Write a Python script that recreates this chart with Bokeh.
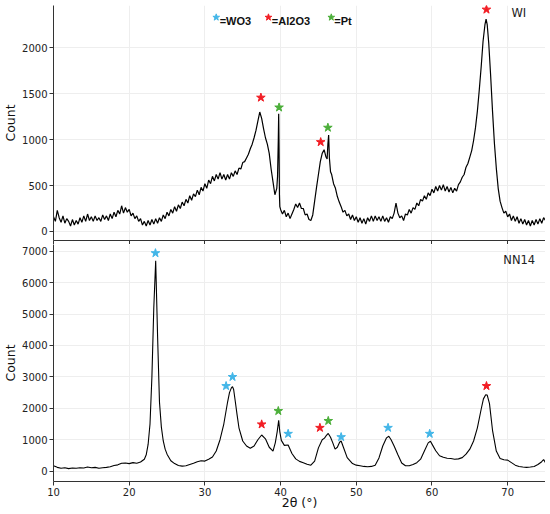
from bokeh.plotting import figure
from bokeh.models import Range1d, FixedTicker
from bokeh.layouts import column
from bokeh.core.properties import value
from bokeh.embed import file_html
from bokeh.resources import INLINE

# ---------------- data: sample WI (top) ----------------
wi_x = [10.0, 10.25, 10.5, 10.75, 11.0, 11.25, 11.5, 11.75, 12.0, 12.25, 12.5, 12.75,
        13.0, 13.25, 13.5, 13.75, 14.0, 14.25, 14.5, 14.75, 15.0, 15.25, 15.5, 15.75,
        16.0, 16.25, 16.5, 16.75, 17.0, 17.25, 17.5, 17.75, 18.0, 18.25, 18.5, 18.75,
        19.0, 19.25, 19.5, 19.75, 20.0, 20.25, 20.5, 20.75, 21.0, 21.25, 21.5, 21.75,
        22.0, 22.25, 22.5, 22.75, 23.0, 23.25, 23.5, 23.75, 24.0, 24.25, 24.5, 24.75,
        25.0, 25.25, 25.5, 25.75, 26.0, 26.25, 26.5, 26.75, 27.0, 27.25, 27.5, 27.75,
        28.0, 28.25, 28.5, 28.75, 29.0, 29.25, 29.5, 29.75, 30.0, 30.25, 30.5, 30.75,
        31.0, 31.25, 31.5, 31.75, 32.0, 32.25, 32.5, 32.75, 33.0, 33.25, 33.5, 33.75,
        34.0, 34.25, 34.5, 34.75, 35.0, 35.25, 35.5, 35.75, 36.0, 36.25, 36.5, 36.75,
        37.0, 37.25, 37.5, 37.75, 38.0, 38.25, 38.5, 38.75, 39.0, 39.25, 39.5, 39.6,
        39.7, 39.75, 39.8, 39.85, 39.9, 40.0, 40.25, 40.5, 40.75, 41.0, 41.25, 41.5,
        41.75, 42.0, 42.25, 42.5, 42.75, 43.0, 43.25, 43.5, 43.75, 44.0, 44.25, 44.5,
        44.75, 45.0, 45.25, 45.5, 45.75, 46.0, 46.15, 46.25, 46.35, 46.45, 46.6, 46.75,
        47.0, 47.25, 47.5, 47.75, 48.0, 48.25, 48.5, 48.75, 49.0, 49.25, 49.5, 49.75,
        50.0, 50.25, 50.5, 50.75, 51.0, 51.25, 51.5, 51.75, 52.0, 52.25, 52.5, 52.75,
        53.0, 53.25, 53.5, 53.75, 54.0, 54.25, 54.5, 54.75, 55.0, 55.25, 55.5, 55.75,
        56.0, 56.25, 56.5, 56.75, 57.0, 57.25, 57.5, 57.75, 58.0, 58.25, 58.5, 58.75,
        59.0, 59.25, 59.5, 59.75, 60.0, 60.25, 60.5, 60.75, 61.0, 61.25, 61.5, 61.75,
        62.0, 62.25, 62.5, 62.75, 63.0, 63.25, 63.5, 63.75, 64.0, 64.25, 64.5, 64.75,
        65.0, 65.25, 65.5, 65.75, 66.0, 66.25, 66.5, 66.75, 67.0, 67.15, 67.3, 67.5,
        67.75, 68.0, 68.25, 68.5, 68.75, 69.0, 69.25, 69.5, 69.75, 70.0, 70.25, 70.5,
        70.75, 71.0, 71.25, 71.5, 71.75, 72.0, 72.25, 72.5, 72.75, 73.0, 73.25, 73.5,
        73.75, 74.0, 74.25, 74.5, 74.75, 75.0]
wi_y = [160, 110, 230, 150, 100, 170, 90, 140, 110, 60, 130, 70,
        120, 80, 150, 100, 170, 110, 190, 120, 160, 110, 170, 120,
        150, 110, 180, 130, 170, 120, 190, 140, 210, 160, 230, 190,
        280, 200, 260, 210, 240, 170, 200, 140, 170, 110, 140, 70,
        110, 60, 120, 70, 130, 80, 140, 90, 150, 110, 180, 140,
        210, 170, 240, 200, 270, 220, 290, 250, 320, 280, 350, 310,
        390, 340, 410, 380, 450, 400, 480, 440, 520, 470, 560, 520,
        600, 550, 620, 570, 640, 570, 620, 560, 620, 570, 640, 600,
        660, 620, 690, 680, 750, 760, 800, 840, 900, 950, 1020, 1100,
        1200, 1300, 1230, 1120, 1020, 950, 850, 680, 540, 400, 470, 600,
        1000, 1280, 900, 400, 270, 240, 190, 230, 160, 200, 140, 190,
        240, 300, 260, 310, 250, 250, 180, 190, 130, 120, 180, 330,
        480, 620, 760, 850, 890, 810, 790, 950, 1050, 800, 650, 620,
        520, 470, 380, 320, 270, 210, 230, 170, 190, 130, 180, 120,
        160, 100, 150, 90, 140, 80, 150, 110, 170, 110, 170, 120,
        160, 110, 170, 110, 150, 100, 160, 140, 200, 310, 200, 150,
        170, 120, 190, 180, 240, 200, 260, 240, 310, 280, 350, 330,
        390, 350, 420, 390, 460, 420, 490, 440, 500, 450, 510, 440,
        490, 430, 480, 420, 470, 440, 510, 540, 590, 620, 700, 740,
        810, 880, 990, 1130, 1310, 1540, 1790, 2070, 2250, 2310, 2250, 2050,
        1700, 1310, 960, 690, 470, 330, 260, 200, 220, 160, 190, 120,
        170, 110, 160, 90, 140, 80, 130, 70, 120, 60, 120, 70,
        130, 80, 140, 90, 150, 120]

# ---------------- data: sample NN14 (bottom) ----------------
nn_x = [10.0, 10.5, 11.0, 11.5, 12.0, 12.5, 13.0, 13.5, 14.0, 14.5, 15.0, 15.5,
        16.0, 16.5, 17.0, 17.5, 18.0, 18.5, 19.0, 19.5, 20.0, 20.5, 21.0, 21.5,
        22.0, 22.25, 22.5, 22.75, 23.0, 23.25, 23.5, 23.75, 24.0, 24.25, 24.5, 24.75,
        25.0, 25.5, 26.0, 26.5, 27.0, 27.5, 28.0, 28.5, 29.0, 29.5, 30.0, 30.5,
        31.0, 31.5, 32.0, 32.5, 33.0, 33.25, 33.5, 33.65, 33.8, 34.0, 34.25, 34.5,
        35.0, 35.5, 36.0, 36.5, 37.0, 37.5, 38.0, 38.5, 39.0, 39.3, 39.55, 39.75,
        39.9, 40.1, 40.5, 41.0, 41.5, 42.0, 42.5, 43.0, 43.5, 44.0, 44.5, 45.0,
        45.5, 45.8, 46.0, 46.3, 46.6, 46.9, 47.2, 47.5, 47.8, 48.0, 48.3, 48.8,
        49.5, 50.0, 50.5, 51.0, 51.5, 52.0, 52.5, 53.0, 53.5, 54.0, 54.3, 54.6,
        55.0, 55.5, 56.0, 56.5, 57.0, 57.5, 58.0, 58.5, 59.0, 59.5, 59.8, 60.1,
        60.5, 61.0, 61.5, 62.0, 62.5, 63.0, 63.5, 64.0, 64.5, 65.0, 65.5, 66.0,
        66.5, 66.8, 67.1, 67.3, 67.6, 68.0, 68.5, 69.0, 69.5, 70.0, 70.5, 71.0,
        71.5, 72.0, 72.5, 73.0, 73.5, 74.0, 74.5, 74.75, 75.0]
nn_y = [170, 120, 90, 110, 80, 100, 90, 110, 100, 130, 110, 120,
        90, 110, 120, 140, 180, 200, 250, 260, 240, 270, 250, 290,
        380, 520, 850, 1500, 3000, 5200, 6700, 4300, 2200, 1400, 960, 700,
        540, 330, 240, 180, 160, 170, 210, 250, 300, 330, 320, 380,
        450, 640, 1000, 1500, 2200, 2500, 2650, 2690, 2600, 2250, 1800, 1380,
        960, 800, 730, 800, 1000, 1150, 1030, 760, 640, 900, 1250, 1620,
        1250, 980, 820, 830, 560, 390, 310, 270, 220, 190, 320, 740,
        1000, 1050, 1120, 1200, 1080, 900, 700, 760, 920, 960, 760, 430,
        240, 190, 170, 150, 140, 150, 190, 420, 800, 1060, 1110, 1000,
        800, 520, 260, 170, 170, 210, 270, 380, 640, 900, 950, 820,
        650, 490, 440, 410, 400, 380, 390, 430, 540, 700, 960, 1380,
        1970, 2300, 2430, 2420, 2150, 1300, 640, 400, 360, 350, 270, 190,
        150, 130, 120, 130, 150, 210, 300, 370, 270]

# ---------------- annotation stars ----------------
wi_star_x = [37.4, 39.8, 45.3, 46.25, 67.2]
wi_star_y = [1457, 1350, 973, 1130, 2415]
wi_star_c = ["#f21d24", "#4caf3a", "#f21d24", "#4caf3a", "#f21d24"]

nn_star_x = [23.47, 32.8, 33.65, 37.5, 39.7, 41.0, 45.2, 46.3, 48.0, 54.2, 59.7, 67.2]
nn_star_y = [6940, 2710, 3000, 1490, 1915, 1190, 1380, 1600, 1085, 1380, 1190, 2710]
nn_star_c = ["#43b6e8", "#43b6e8", "#43b6e8", "#f21d24", "#4caf3a", "#43b6e8",
             "#f21d24", "#4caf3a", "#43b6e8", "#43b6e8", "#43b6e8", "#f21d24"]

legend_star_x = [31.5, 38.4, 46.7]
legend_star_y = [2330, 2330, 2330]
legend_star_c = ["#43b6e8", "#f21d24", "#4caf3a"]
legend_text_x = [31.95, 38.85, 47.1]
legend_text_y = [2290, 2290, 2290]
legend_text = ["=WO3", "=Al2O3", "=Pt"]

x_ticks = [10, 20, 30, 40, 50, 60, 70]
wi_y_ticks = [0, 500, 1000, 1500, 2000]
nn_y_ticks = [0, 1000, 2000, 3000, 4000, 5000, 6000, 7000]

W = 545
FONT = "DejaVu Sans"
AX = "#333333"


def style(p, yticks):
    p.outline_line_color = None
    p.background_fill_color = "white"
    p.border_fill_color = "white"
    p.xgrid.ticker = FixedTicker(ticks=x_ticks)
    p.ygrid.ticker = FixedTicker(ticks=yticks)
    p.grid.grid_line_color = "#eeeeee"
    p.grid.grid_line_width = 1
    for ax in (p.xaxis[0], p.yaxis[0]):
        ax.axis_line_color = AX
        ax.major_tick_line_color = AX
        ax.major_tick_in = 0
        ax.major_tick_out = 4
        ax.minor_tick_line_color = None
        ax.major_label_text_font = FONT
        ax.major_label_text_font_size = "10px"
        ax.major_label_text_color = "#222222"
        ax.major_label_standoff = 2
        ax.axis_label_text_font = FONT
        ax.axis_label_text_font_size = "12.5px"
        ax.axis_label_text_font_style = "normal"
        ax.axis_label_text_color = "#111111"
        ax.axis_label_standoff = 1
    p.xaxis[0].ticker = FixedTicker(ticks=x_ticks)
    p.yaxis[0].ticker = FixedTicker(ticks=yticks)


p1 = figure(width=W, height=244, x_range=Range1d(10, 75), y_range=Range1d(-98, 2459),
            output_backend="svg", toolbar_location=None,
            min_border_left=40, min_border_right=0, min_border_top=5, min_border_bottom=0)
style(p1, wi_y_ticks)
p1.yaxis.axis_label = "Count"
p1.xaxis.major_label_overrides = {t: "" for t in x_ticks}
p1.xaxis.major_label_standoff = 0
p1.line(wi_x, wi_y, line_color="black", line_width=1.2)
p1.scatter(wi_star_x, wi_star_y, marker="star", size=9, fill_color=wi_star_c,
           line_color=wi_star_c)
p1.scatter(legend_star_x, legend_star_y, marker="star", size=7, fill_color=legend_star_c,
           line_color=legend_star_c)
p1.text(legend_text_x, legend_text_y, text=legend_text, text_font=value("Liberation Sans"),
        text_font_style="bold", text_font_size="11px", text_baseline="middle",
        text_align="left", text_color="#111111")
p1.text([70.5], [2382], text=["WI"], text_font=value(FONT), text_font_size="11.5px",
        text_baseline="middle", text_align="left", text_color="#222222")

p2 = figure(width=W, height=268, x_range=Range1d(10, 75), y_range=Range1d(-330, 7215),
            output_backend="svg", toolbar_location=None,
            min_border_left=40, min_border_right=0, min_border_top=0, min_border_bottom=0)
style(p2, nn_y_ticks)
p2.yaxis.axis_label = "Count"
p2.xaxis.axis_label = "2θ (°)"
p2.xaxis.axis_label_standoff = -4
p2.line(nn_x, nn_y, line_color="black", line_width=1.1)
p2.scatter(nn_star_x, nn_star_y, marker="star", size=9, fill_color=nn_star_c,
           line_color=nn_star_c)
p2.text([69.43], [6735], text=["NN14"], text_font=value(FONT), text_font_size="11.5px",
        text_baseline="middle", text_align="left", text_color="#222222")

layout = column(p1, p2, spacing=0)
open("out.html", "w").write(file_html(layout, INLINE))
